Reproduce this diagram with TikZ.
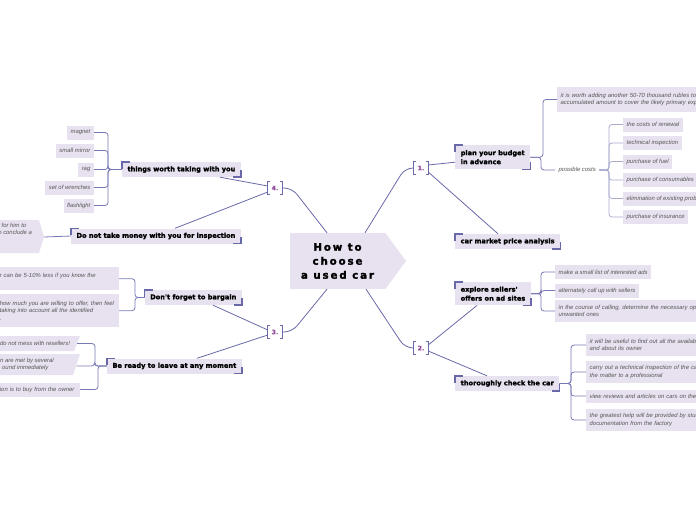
\documentclass[tikz,border=0pt]{standalone}
\usepackage{fontspec}
\setmainfont{Liberation Sans}
\newfontfamily\topicfont{DejaVu Sans}[BoldFeatures={FakeBold=1.6}]
\newfontfamily\rootfont{DejaVu Sans}[LetterSpace=18, BoldFeatures={FakeBold=2}]
\usetikzlibrary{positioning}
\definecolor{topicfill}{RGB}{232,226,240}
\definecolor{linkblue}{RGB}{105,105,170}
\definecolor{leafblue}{RGB}{120,120,182}
\definecolor{paleblue}{RGB}{172,172,208}
\definecolor{numpurple}{RGB}{150,75,160}
\definecolor{leafgray}{RGB}{85,85,85}
\tikzset{
	topic/.style={fill=topicfill, inner xsep=5.5pt, inner ysep=2pt, minimum height=15pt, font=\topicfont\bfseries\fontsize{6.6}{9}\selectfont, text=black},
	leaf/.style={fill=topicfill, inner xsep=3.5pt, inner ysep=1.5pt, minimum height=14pt, font=\itshape\fontsize{5.9}{7.5}\selectfont, text=leafgray},
	leaftext/.style={leaf, fill=none},
	branch/.style={draw=linkblue, line width=0.8pt},
	twig/.style={draw=leafblue, line width=0.8pt, rounded corners=3pt},
	paletwig/.style={twig, draw=paleblue},
	corner/.style={draw=linkblue, line width=1.5pt},
	number/.style={font=\topicfont\bfseries\fontsize{6}{7}\selectfont, text=numpurple, minimum width=14pt, minimum height=13pt, inner sep=0pt},
	numbrace/.style={draw=linkblue, line width=0.7pt},
}
\begin{document}
\begin{tikzpicture}[x=1pt, y=1pt]
		\useasboundingbox (0,0) rectangle (696,-520);
		\fill[white] (0,0) rectangle (696,-520);
		\clip (0,0) rectangle (696,-520);
		% root
		\node[fill=topicfill, minimum width=95pt, minimum height=56pt, inner sep=0pt, align=center, font=\rootfont\bfseries\fontsize{10.3}{14}\selectfont] (root) at (337.5,-261) {How to\\choose\\a used car};
		\fill[topicfill] (root.north east) -- (406,-261) -- (root.south east) -- cycle;
		\node[number] (n1) at (421,-168) {1.};
		\node[number] (n2) at (421,-348) {2.};
		\node[number] (n3) at (275,-332) {3.};
		\node[number] (n4) at (275,-188) {4.};
		\foreach \n in {n1,n2,n3,n4} {
			\draw[numbrace] ([xshift=2.5pt]\n.north west) -- (\n.north west) -- (\n.south west) -- ([xshift=2.5pt]\n.south west);
			\draw[numbrace] ([xshift=-2.5pt]\n.north east) -- (\n.north east) -- (\n.south east) -- ([xshift=-2.5pt]\n.south east);
		}
		\draw[branch, rounded corners=8pt] ([xshift=27.5pt]root.north) -- (405,-168) -- (n1.west);
		\draw[branch, rounded corners=8pt] ([xshift=28.5pt]root.south) -- (405,-348) -- (n2.west);
		\draw[branch, rounded corners=8pt] ([xshift=-10.5pt]root.north) -- (292,-188) -- (n4.east);
		\draw[branch, rounded corners=8pt] ([xshift=-10.5pt]root.south) -- (292,-332) -- (n3.east);
		% topics
		\node[topic, anchor=north west, align=left, minimum height=24pt] (budget) at (455,-145) {plan your budget\\in advance};
		\node[topic, anchor=west] (market) at (455,-241.5) {car market price analysis};
		\node[topic, anchor=north west, align=left, minimum height=23pt] (sellers) at (455,-282) {explore sellers'\\offers on ad sites};
		\node[topic, anchor=west] (check) at (455,-383.5) {thoroughly check the car};
		\node[topic, anchor=east] (things) at (241,-169.5) {things worth taking with you};
		\node[topic, anchor=east] (money) at (241,-236) {Do not take money with you for inspection};
		\node[topic, anchor=east] (bargain) at (242,-297.5) {Don't forget to bargain};
		\node[topic, anchor=east] (leave) at (242,-366) {Be ready to leave at any moment};
		\foreach \t in {budget,market,sellers,check,things,money,bargain,leave} {
			\draw[corner] ([yshift=-7pt]\t.north west) -- (\t.north west) -- ([xshift=8pt]\t.north west);
			\draw[corner] ([yshift=7pt]\t.south east) -- (\t.south east) -- ([xshift=-8pt]\t.south east);
		}
		\draw[branch] ([yshift=3pt]n1.east) -- ([yshift=-5pt]budget.west);
		\draw[branch] ([yshift=-4pt]n1.east) -- ([xshift=43pt]market.north west);
		\draw[branch] ([yshift=3pt]n2.east) -- ([xshift=22pt]sellers.south west);
		\draw[branch] ([yshift=-3pt]n2.east) -- ([xshift=32pt]check.north west);
		\draw[branch] ([yshift=2pt]n4.west) -- ([xshift=-21pt]things.south east);
		\draw[branch] ([yshift=-4pt]n4.west) -- ([xshift=-66pt]money.north east);
		\draw[branch] ([yshift=2pt]n3.west) -- ([xshift=-29pt]bargain.south east);
		\draw[branch] ([yshift=-3pt]n3.west) -- ([xshift=-45pt]leave.north east);
		% things worth taking with you
		\foreach \name/\txt/\y in {magnet/magnet/132.5, mirror/small mirror/150.5, rag/rag/169.5, wrenches/set of wrenches/187.5, flashlight/flashlight/205.5} {
			\node[leaf, anchor=east] (\name) at (94,-\y) {\txt};
			\draw[twig] (things.west) -| ([xshift=14pt]\name.east) -- (\name.east);
		}
		% do not take money
		\fill[topicfill] (-6,-220) -- (39,-220) -- (44,-237) -- (39,-253) -- (-6,-253) -- cycle;
		\node[leaftext, anchor=north east, align=left] (deposit) at (35.5,-221.5) {t for him to\\o conclude a};
		\coordinate (deposittip) at (44,-237);
		\draw[twig] (money.west) -- (deposittip);
		% bargain
		\node[leaf, anchor=north east, text width=115.5pt, align=left, minimum height=23pt] (price) at (119,-267) {\mbox{r can be 5-10\% less if you know the}\\\mbox{}};
		\node[leaf, anchor=north east, text width=115.5pt, align=left, minimum height=33pt] (offer) at (119,-294) {\mbox{how much you are willing to offer, then feel}\\\mbox{taking into account all the identified}\\.};
		\foreach \name in {price,offer} {
			\draw[twig] (bargain.west) -| ([xshift=16pt]\name.east) -- (\name.east);
		}
		% ready to leave
		\fill[topicfill] (-6,-336) -- (80,-336) -- (74,-351) -- (-6,-351) -- cycle;
		\node[leaftext, anchor=west] (resellers) at (-3.5,-343.5) {do not mess with resellers!};
		\coordinate (resellersedge) at (77,-343.5);
		\fill[topicfill] (-6,-354) -- (80,-354) -- (73,-375) -- (-6,-375) -- cycle;
		\node[leaftext, anchor=west, align=left] (met) at (-3.5,-364.5) {n are met by several\\\hspace{2pt}ound immediately};
		\coordinate (metedge) at (76.5,-366);
		\node[leaf, anchor=east, text width=78pt, align=left] (owner) at (80,-389.5) {\mbox{tion is to buy from the owner}};
		\foreach \edge in {resellersedge,metedge,owner.east} {
			\draw[twig] (leave.west) -| ([xshift=18pt]\edge) -- (\edge);
		}
		% plan your budget
		\node[leaf, anchor=west, text width=170pt, align=left, minimum height=25pt] (rubles) at (557,-99.5) {it is worth adding another 50-70 thousand rubles to\\accumulated amount to cover the likely primary expenses};
		\node[leaftext, anchor=west] (costs) at (555,-170) {possible costs};
		\foreach \name in {rubles,costs} {
			\draw[twig] (budget.east) -| ([xshift=-14pt]\name.west) -- (\name.west);
		}
		\foreach \name/\txt/\y in {renewal/the costs of renewal/124.5, inspection/technical inspection/143, fuel/purchase of fuel/161.5, consumables/purchase of consumables/180, problems/elimination of existing problems/198.5, insurance/purchase of insurance/217} {
			\node[leaf, anchor=west] (\name) at (623,-\y) {\txt};
			\draw[paletwig] (costs.east) -| ([xshift=-14pt]\name.west) -- (\name.west);
		}
		% explore sellers' offers
		\node[leaf, anchor=west] (adlist) at (555,-272) {make a small list of interested ads};
		\node[leaf, anchor=west] (calls) at (555,-290.5) {alternately call up with sellers};
		\node[leaf, anchor=west, text width=170pt, align=left, minimum height=22pt] (options) at (555,-311) {in the course of calling, determine the necessary options\\unwanted ones};
		\foreach \name in {adlist,calls,options} {
			\draw[twig] (sellers.east) -| ([xshift=-14pt]\name.west) -- (\name.west);
		}
		% thoroughly check the car
		\node[leaf, anchor=west, text width=170pt, align=left, minimum height=22pt] (history) at (586,-345) {it will be useful to find out all the available\\and about its owner};
		\node[leaf, anchor=west, text width=170pt, align=left, minimum height=22pt] (expert) at (586,-372) {carry out a technical inspection of the car\\the matter to a professional};
		\node[leaf, anchor=west, text width=170pt, align=left, minimum height=13pt] (reviews) at (586,-396) {view reviews and articles on cars on the Internet};
		\node[leaf, anchor=west, text width=170pt, align=left, minimum height=22pt] (factory) at (586,-420) {the greatest help will be provided by studying\\documentation from the factory};
		\foreach \name in {history,expert,reviews,factory} {
			\draw[twig] (check.east) -| ([xshift=-15pt]\name.west) -- (\name.west);
		}
	\end{tikzpicture}
\end{document}
